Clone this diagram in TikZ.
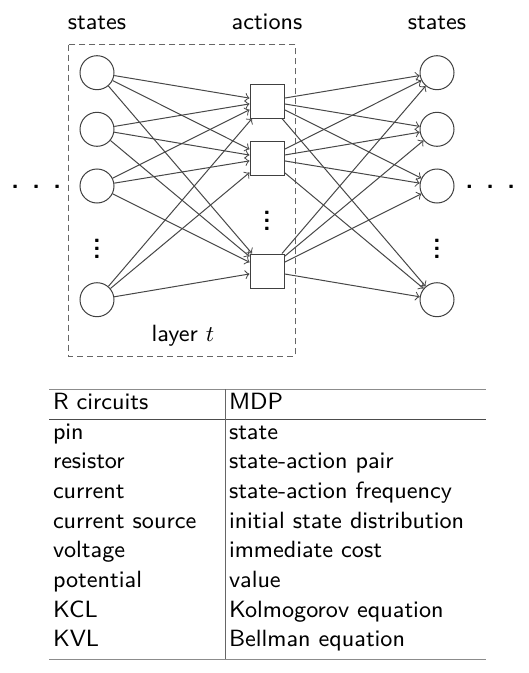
\documentclass[tikz,border=0pt]{standalone}
\renewcommand{\familydefault}{\sfdefault}
\tikzset{
  state/.style={circle, draw=black!75, line width=0.4pt, minimum size=13.6pt, inner sep=0pt},
  action/.style={rectangle, draw=black!75, line width=0.4pt, minimum size=13.6pt, inner sep=0pt},
  link/.style={->, black!72, line width=0.4pt},
  cell/.style={anchor=base west, inner sep=0pt},
  dotsbox/.style={inner sep=0pt, font=\bfseries},
}
\newcommand{\mydots}{.\hskip5.3pt.\hskip5.3pt.}
\newcommand{\myvdots}{\vbox{\baselineskip3.2pt\lineskiplimit0pt\hbox{.}\hbox{.}\hbox{.}}}
\begin{document}
\begin{tikzpicture}[x=0.4pt,y=-0.4pt, every node/.style={font=\fontsize{9.4}{11.8}\selectfont}]
    \useasboundingbox (0,0) rectangle (528,673);

    % layer t
    \draw[black!60, dash pattern=on 2.4pt off 1.6pt] (68.5,44.5) rectangle (295.5,356);
    \node[anchor=base] (lay) at (183,341.7) {layer $t$};

    % column titles
    \node[anchor=base] (tl) at (97,29.5) {states};
    \node[anchor=base] (tm) at (267,29.5) {actions};
    \node[anchor=base] (tr) at (437,29.5) {states};

    \foreach \i/\y in {1/72.7,2/129.3,3/186,4/299.7} {
        \node[state] (s\i) at (97,\y) {};
        \node[state] (r\i) at (437,\y) {};
    }
    \foreach \j/\y in {1/101,2/158,3/271}
        \node[action] (a\j) at (267,\y) {};

    \node[dotsbox] (vl) at (97,249) {\myvdots};
    \node[dotsbox] (va) at (267,220.7) {\myvdots};
    \node[dotsbox] (vr) at (437,249) {\myvdots};
    \node[dotsbox] (dl) at (36.2,186.7) {\mydots};
    \node[dotsbox] (dr) at (490.3,186.7) {\mydots};

    \foreach \i in {1,...,4}
        \foreach \j in {1,2,3} {
            \draw[link] (s\i) -- (a\j);
            \draw[link] (a\j) -- (r\i);
        }

    % table
    \draw[black!45, line width=0.5pt] (49,389.3) -- (486,389.3);
    \draw[black!70, line width=0.5pt] (49,419.3) -- (486,419.3);
    \draw[black!45, line width=0.5pt] (49,659.3) -- (486,659.3);
    \draw[black!60, line width=0.4pt] (225,389.3) -- (225,659.3);
    \node[cell] (h1) at (52.5,409.5) {R circuits};
    \node[cell] (h2) at (228.5,409.5) {MDP};
    \foreach \l/\r [count=\k] in {pin/state, resistor/state-action pair,
        current/state-action frequency, current source/initial state distribution,
        voltage/immediate cost, potential/value, KCL/Kolmogorov equation,
        KVL/Bellman equation} {
        \node[cell] (l\k) at (52.5,{409.5+29.65*\k}) {\l};
        \node[cell] (m\k) at (228.5,{409.5+29.65*\k}) {\r};
    }
\end{tikzpicture}
\end{document}
